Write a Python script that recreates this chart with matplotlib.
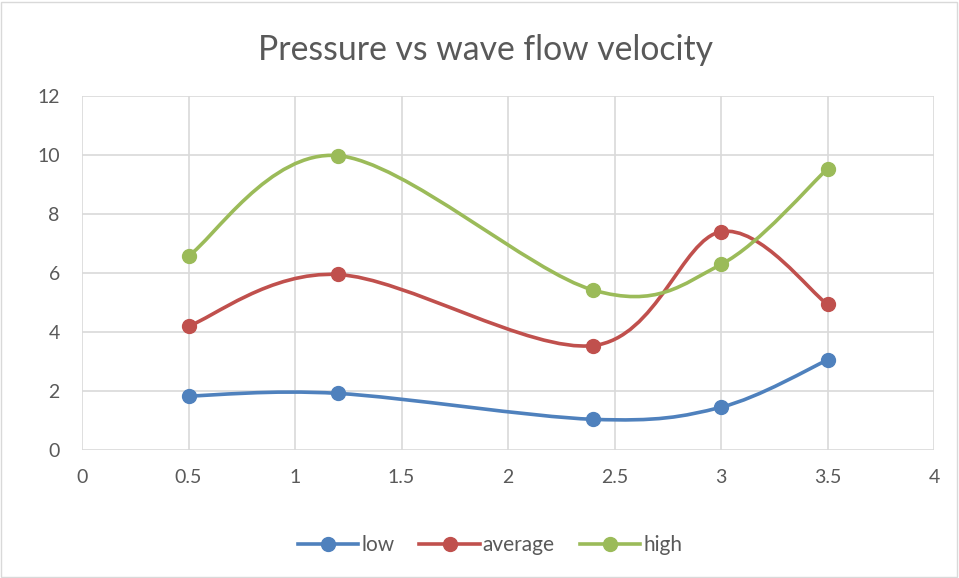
import numpy as np
import matplotlib
matplotlib.use("Agg")
import matplotlib.pyplot as plt
from matplotlib.path import Path
from matplotlib.patches import PathPatch, Rectangle
from matplotlib.lines import Line2D

plt.rcParams['font.family'] = ['Lato', 'DejaVu Sans']

velocity = [0.5, 1.2, 2.4, 3.0, 3.5]
low = [1.83, 1.92, 1.04, 1.45, 3.05]
average = [4.2, 5.95, 3.54, 7.4, 4.94]
high = [6.58, 9.98, 5.42, 6.29, 9.53]
series_names = ['low', 'average', 'high']
series_colors = ['#4F81BD', '#C0504D', '#9BBB59']

x_ticks = [0, 0.5, 1, 1.5, 2, 2.5, 3, 3.5, 4]
y_ticks = [0, 2, 4, 6, 8, 10, 12]
grey_text = '#595959'


def smooth_path(xs, ys):
    # cubic bezier through the points, like a spreadsheet "smoothed line"
    pts = np.column_stack([xs, ys])
    n = len(pts)
    verts = [pts[0]]
    codes = [Path.MOVETO]
    for i in range(n - 1):
        p0 = pts[i - 1] if i > 0 else pts[i]
        p1 = pts[i]
        p2 = pts[i + 1]
        p3 = pts[i + 2] if i + 2 < n else pts[i + 1]
        c1 = p1 + (p2 - p0) / 6.0
        c2 = p2 - (p3 - p1) / 6.0
        verts += [c1, c2, p2]
        codes += [Path.CURVE4] * 3
    return Path(verts, codes)


fig = plt.figure(figsize=(9.59, 5.78), dpi=100)
ax = fig.add_axes([82 / 959, 1 - 450 / 578, (934 - 82) / 959, (450 - 96) / 578])

for ys, name, col in zip([low, average, high], series_names, series_colors):
    ax.add_patch(PathPatch(smooth_path(velocity, ys), facecolor='none',
                           edgecolor=col, lw=2.6, capstyle='round', zorder=3))
    ax.plot(velocity, ys, linestyle='none', marker='o', markersize=10,
            color=col, zorder=4)

ax.set_xlim(0, 4)
ax.set_ylim(0, 12)
ax.set_xticks(x_ticks)
ax.set_xticklabels(['0', '0.5', '1', '1.5', '2', '2.5', '3', '3.5', '4'])
ax.set_yticks(y_ticks)
ax.grid(True, color='#d9d9d9', lw=1.2, zorder=0)
for s in ax.spines.values():
    s.set_visible(False)
ax.tick_params(length=0, labelsize=14, colors=grey_text)
ax.tick_params(axis='x', pad=14)
ax.tick_params(axis='y', pad=16)

fig.text(485 / 959, 1 - 50 / 578, 'Pressure vs wave flow velocity',
         ha='center', va='center', fontsize=24.3, color=grey_text)

handles = [Line2D([], [], color=c, lw=2.6, marker='o', markersize=10)
           for c in series_colors]
fig.legend(handles, series_names, loc='center', bbox_to_anchor=(490 / 959, 1 - 545 / 578),
           ncol=3, frameon=False, fontsize=15, labelcolor=grey_text,
           handlelength=2.9, columnspacing=1.2, handletextpad=0.15)

fig.patches.append(Rectangle((1 / 959, 1 / 578), 956 / 959, 575 / 578,
                             transform=fig.transFigure, fill=False,
                             edgecolor='#d9d9d9', lw=1))

fig.savefig('out.png', dpi=100, facecolor='white')
